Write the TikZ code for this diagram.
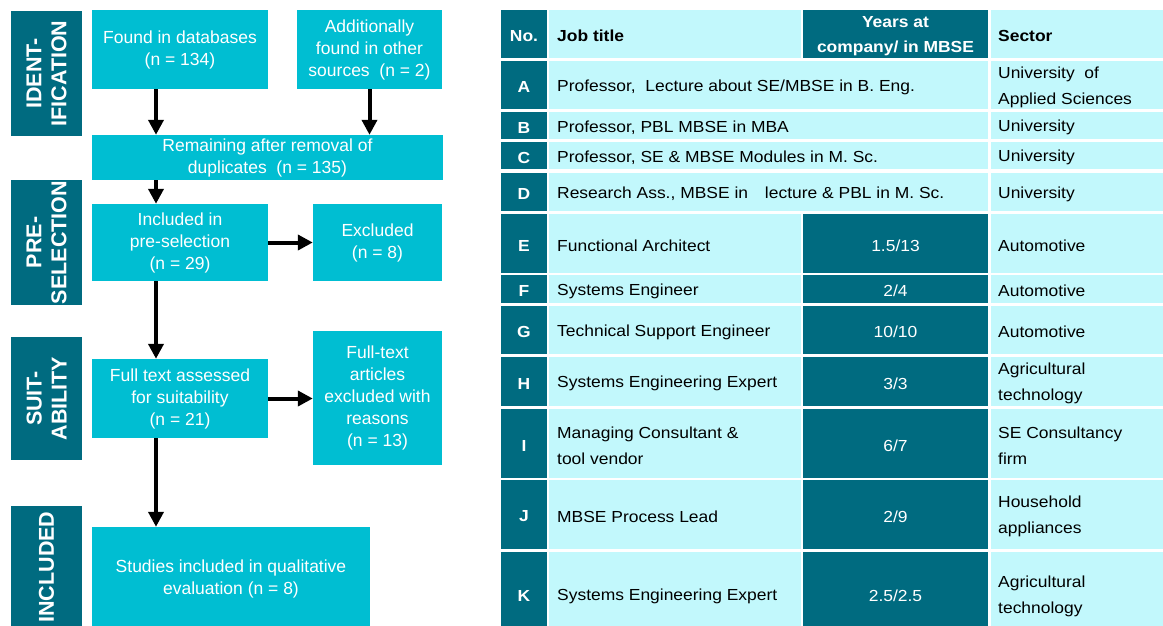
\documentclass[tikz,border=0pt]{standalone}
\usepackage{fontspec}
\setmainfont{Liberation Sans}
\newfontfamily\tabfont{Liberation Sans}[FakeStretch=1.09]
\usetikzlibrary{arrows.meta}
\definecolor{prTeal}{HTML}{006B80}
\definecolor{prCyan}{HTML}{00BED2}
\definecolor{prLight}{HTML}{C2F8FC}
\frenchspacing

\begin{document}
\begin{tikzpicture}[x=1pt, y=-1pt,
    phase/.style={fill=prTeal, text=white, rotate=90, inner sep=0pt, align=center,
        minimum height=71pt, font=\bfseries\fontsize{21.5}{25}\selectfont},
    flowbox/.style={fill=prCyan, text=white, inner sep=0pt, align=center,
        font=\fontsize{17.5}{22}\selectfont},
    flowarr/.style={line width=4pt, -{Triangle[width=15pt,length=15pt]}},
    cell/.style={inner sep=0pt, align=left, anchor=west, yshift=-2pt,
        font=\tabfont\fontsize{16}{26}\selectfont},
    keycell/.style={cell, anchor=center, text=white,
        font=\tabfont\bfseries\fontsize{16}{26}\selectfont},
    yrcell/.style={cell, anchor=center, text=white},
    headcell/.style={cell, font=\tabfont\bfseries\fontsize{16}{25}\selectfont}]

    \useasboundingbox (0,0) rectangle (1163,625);
    \clip (0,0) rectangle (1163,625);
    \fill[white] (0,0) rectangle (1163,625);

    \node[phase, minimum width=125pt] (phIdent) at (46.5,73.5) {IDENT-\\IFICATION};
    \node[phase, minimum width=125pt] (phPre) at (46.5,242.5) {PRE-\\SELECTION};
    \node[phase, minimum width=123pt] (phSuit) at (46.5,398.5) {SUIT-\\ABILITY};
    \node[phase, minimum width=122pt] (phIncl) at (46.5,567) {INCLUDED};

    \node[flowbox, minimum width=176pt, minimum height=79pt] (found) at (180,49.5)
        {Found in databases\\(n = 134)};
    \node[flowbox, minimum width=145pt, minimum height=79pt] (other) at (369.5,49.5)
        {Additionally\\found in other\\sources\ \ (n = 2)};
    \node[flowbox, minimum width=351pt, minimum height=45pt] (remain) at (267.5,157.5)
        {Remaining after removal of\\duplicates\ \ (n = 135)};
    \node[flowbox, minimum width=176pt, minimum height=77pt] (presel) at (180,242.5)
        {Included in\\pre-selection\\(n = 29)};
    \node[flowbox, minimum width=129pt, minimum height=77pt] (excl) at (377.5,242.5)
        {Excluded\\(n = 8)};
    \node[flowbox, minimum width=176pt, minimum height=79pt] (assess) at (180,398.5)
        {Full text assessed\\for suitability\\(n = 21)};
    \node[flowbox, minimum width=129pt, minimum height=134pt] (ftexcl) at (377.5,398)
        {Full-text\\articles\\excluded with\\reasons\\(n = 13)};
    \node[flowbox, minimum width=278pt, minimum height=104pt] (studies) at (231,579)
        {Studies included in qualitative\\evaluation (n = 8)};

    \coordinate (spine) at (156,0);
    \draw[flowarr] (found.south -| spine) -- (remain.north -| spine);
    \draw[flowarr] (other.south) -- (remain.north -| other.south);
    \draw[flowarr] (remain.south -| spine) -- (presel.north -| spine);
    \draw[flowarr] (presel.south -| spine) -- (assess.north -| spine);
    \draw[flowarr] (assess.south -| spine) -- (studies.north -| spine);
    \draw[flowarr] (presel.east) -- (excl.west);
    \draw[flowarr] (assess.east) -- (assess.east -| ftexcl.west);

    % table head
    \fill[prTeal] (501,10) rectangle (547,58);
    \fill[prLight] (549,10) rectangle (801,58);
    \fill[prTeal] (803,10) rectangle (988,58);
    \fill[prLight] (991,10) rectangle (1163,58);
    \node[keycell] (hNo) at (524,34) {No.};
    \node[headcell] (hJob) at (557,34) {Job title};
    \node[headcell, text=white, anchor=center, align=center] (hYrs) at (895.5,34)
        {Years at\\company/ in MBSE};
    \node[headcell] (hSec) at (998,34) {Sector};

    % academic rows, job title over two columns
    \foreach \id/\ya/\yb/\job/\sec in {
        A/61/109/{Professor,\ \ Lecture about SE/MBSE in B. Eng.}/{University\ \ of\\Applied Sciences},
        B/112/139/{Professor, PBL MBSE in MBA}/University,
        C/142/169/{Professor, SE \& MBSE Modules in M. Sc.}/University,
        D/173/211/{Research Ass., MBSE in\hspace{12pt} lecture \& PBL in M. Sc.}/University}
    {
        \fill[prTeal] (501,\ya) rectangle (547,\yb);
        \fill[prLight] (549,\ya) rectangle (988,\yb);
        \fill[prLight] (991,\ya) rectangle (1163,\yb);
        \node[keycell] (no\id) at (524,{(\ya+\yb)/2}) {\id};
        \node[cell] (job\id) at (557,{(\ya+\yb)/2}) {\job};
        \node[cell] (sec\id) at (998,{(\ya+\yb)/2}) {\sec};
    }

    % industry rows
    \foreach \id/\ya/\yb/\job/\yrs/\sec in {
        E/214/273/Functional Architect/{1.5/13}/Automotive,
        F/275/303/Systems Engineer/{2/4}/Automotive,
        G/306/354/Technical Support Engineer/{10/10}/Automotive,
        H/357/406/Systems Engineering Expert/{3/3}/{Agricultural\\technology},
        I/409/478/{Managing Consultant \&\\tool vendor}/{6/7}/{SE Consultancy\\firm},
        J/480/549/MBSE Process Lead/{2/9}/{Household\\appliances},
        K/552/636/Systems Engineering Expert/{2.5/2.5}/{Agricultural\\technology}}
    {
        \fill[prTeal] (501,\ya) rectangle (547,\yb);
        \fill[prLight] (549,\ya) rectangle (801,\yb);
        \fill[prTeal] (803,\ya) rectangle (988,\yb);
        \fill[prLight] (991,\ya) rectangle (1163,\yb);
        \node[keycell] (no\id) at (524,{(\ya+\yb)/2}) {\id};
        \node[cell] (job\id) at (557,{(\ya+\yb)/2}) {\job};
        \node[yrcell] (yrs\id) at (895.5,{(\ya+\yb)/2}) {\yrs};
        \node[cell] (sec\id) at (998,{(\ya+\yb)/2}) {\sec};
    }
\end{tikzpicture}
\end{document}
